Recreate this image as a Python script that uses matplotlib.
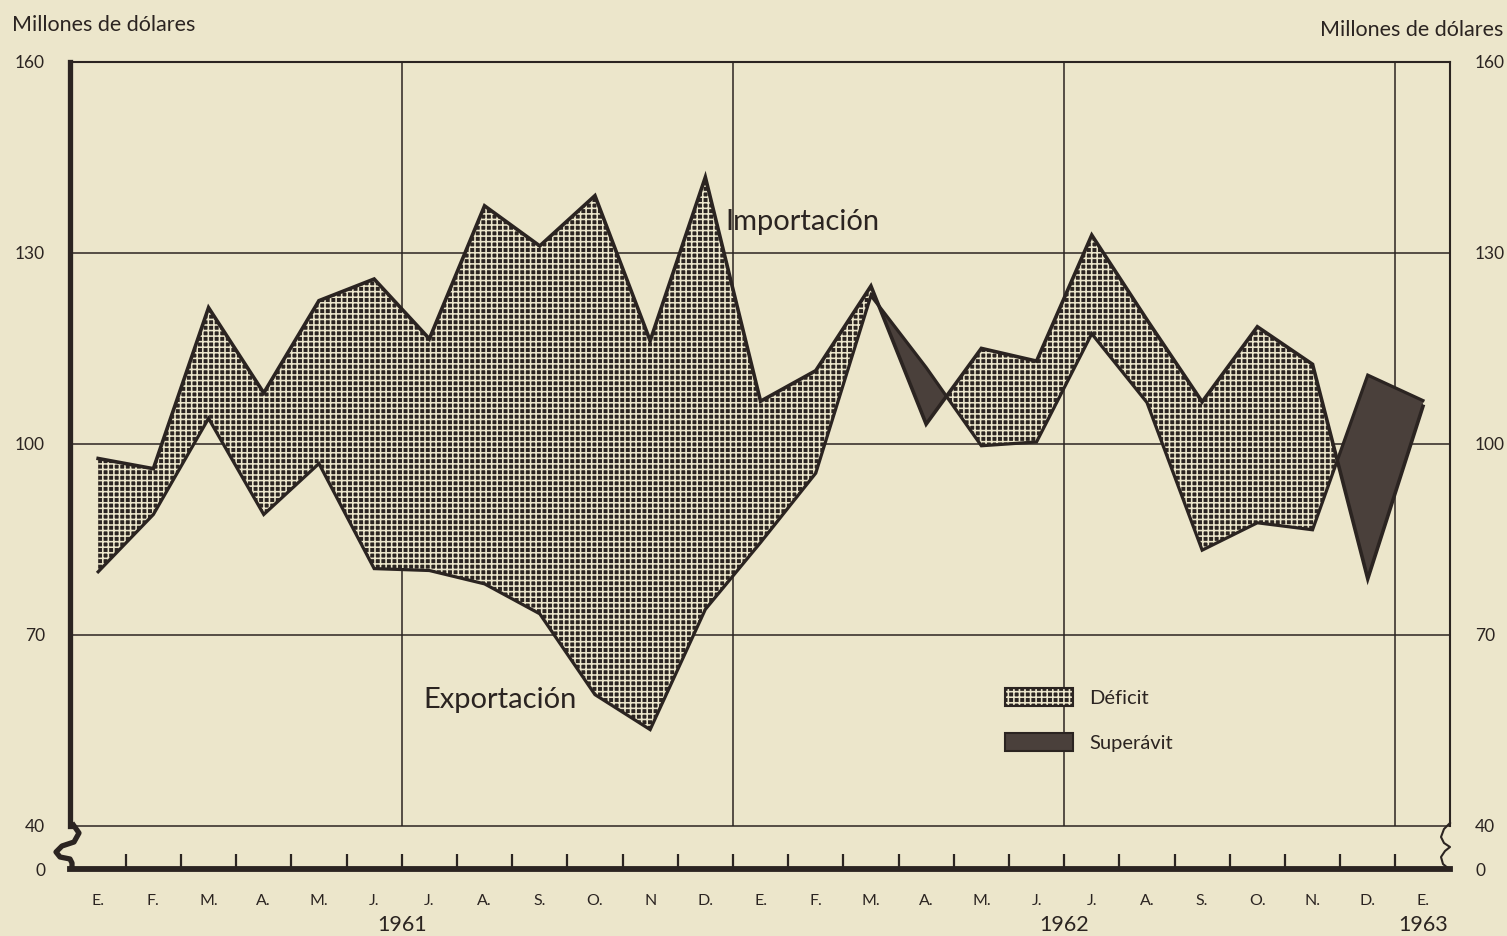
import matplotlib.pyplot as plt
import numpy as np
from matplotlib.patches import Patch
from matplotlib.lines import Line2D

plt.rcParams['font.family'] = ['Lato', 'DejaVu Sans']
plt.rcParams['hatch.linewidth'] = 1.15

# monthly values, Jan 1961 .. Jan 1963 (millones de dolares)
meses = ["E.", "F.", "M.", "A.", "M.", "J.", "J.", "A.", "S.", "O.", "N", "D.",
         "E.", "F.", "M.", "A.", "M.", "J.", "J.", "A.", "S.", "O.", "N.", "D.", "E."]
importacion = [97.7, 96.1, 121.4, 108.0, 122.5, 125.9, 116.5, 137.4, 131.1, 139.0, 116.2, 141.9,
               106.7, 111.5, 124.8, 103.1, 115.0, 113.0, 132.8, 119.5, 106.6, 118.4, 112.5, 78.8, 105.9]
exportacion = [79.9, 88.9, 104.0, 88.9, 96.9, 80.4, 80.1, 78.0, 73.3, 60.6, 55.1, 74.0,
               84.5, 95.4, 123.3, 112.0, 99.7, 100.3, 117.3, 106.5, 83.3, 87.6, 86.5, 110.8, 106.8]
anios = ["1961", "1962", "1963"]
anio_pos = [5.5, 17.5, 24]
y_ticks = [33.2, 40, 70, 100, 130, 160]
y_labels = ["0", "40", "70", "100", "130", "160"]

bg = '#ECE6CB'
ink = '#2b2421'
dark = '#4a403b'

fig = plt.figure(figsize=(15.07, 9.36), dpi=100, facecolor=bg)
ax = fig.add_axes([70/1507, 1-869/936, 1380/1507, 807/936])
ax.set_facecolor(bg)

x = np.arange(len(meses))
imp = np.array(importacion)
exp_ = np.array(exportacion)

ax.set_xlim(-0.51, 24.49)
ax.set_ylim(33.2, 160)

# grid
for v in [40, 70, 100, 130]:
    ax.axhline(v, color=ink, lw=1.1, zorder=1)
ax.vlines([5.5, 11.5, 17.5, 23.5], 40, 160, color=ink, lw=1.1, zorder=1)

# fills
ax.fill_between(x, exp_, imp, where=imp >= exp_, interpolate=True,
                facecolor=ink, edgecolor=bg, hatch='+++', lw=0, zorder=2)
ax.fill_between(x, exp_, imp, where=imp < exp_, interpolate=True,
                facecolor=dark, lw=0, zorder=2)
ax.plot(x, imp, color=ink, lw=2.6, zorder=3, solid_joinstyle='miter')
ax.plot(x, exp_, color=ink, lw=2.3, zorder=3, solid_joinstyle='miter')

ax.text(11.36, 134.8, "Importación", fontsize=21, color=ink, va='center', ha='left')
ax.text(5.9, 59.7, "Exportación", fontsize=21, color=ink, va='center', ha='left')

# spines
ax.spines['left'].set_bounds(40, 160)
ax.spines['left'].set_linewidth(3.8)
ax.spines['right'].set_bounds(40, 160)
ax.spines['right'].set_linewidth(1.5)
ax.spines['top'].set_linewidth(1.5)
ax.spines['bottom'].set_linewidth(4.2)
for s in ax.spines.values():
    s.set_color(ink)

# broken-axis curls
lx = np.array([72, 79, 74, 62, 56, 60, 70, 72, 72])
ly = np.array([823, 833, 842, 846, 852, 857, 859, 863, 869])
fig.add_artist(Line2D(lx/1507, 1-ly/936, color=ink, lw=3.8, solid_capstyle='butt'))
rx = np.array([1450, 1444, 1441, 1444, 1450, 1445, 1441, 1443, 1449])
ry = np.array([823, 829, 837, 843, 847, 851, 857, 864, 869])
fig.add_artist(Line2D(rx/1507, 1-ry/936, color=ink, lw=1.5))

# axis ticks
ax.set_xticks(x)
ax.set_xticklabels(meses, fontsize=11.5, color=ink)
ax.set_xticks(np.arange(0.5, 24, 1), minor=True)
ax.tick_params(axis='x', which='major', length=0, pad=18)
ax.tick_params(axis='x', which='minor', direction='in', length=11, width=1.6, color=ink)
ax.set_yticks(y_ticks)
ax.set_yticklabels(y_labels, fontsize=12.5, color=ink)
ax.tick_params(axis='y', length=0, pad=18, labelright=True)

for a, p in zip(anios, anio_pos):
    ax.text(p, -0.069, a, transform=ax.get_xaxis_transform(),
            fontsize=15.5, color=ink, ha='center', va='center')

fig.text(12/1507, 1-25/936, "Millones de dólares", fontsize=15.5, color=ink, va='center', ha='left')
fig.text(1503/1507, 1-30/936, "Millones de dólares", fontsize=15.5, color=ink, va='center', ha='right')

h_def = (Patch(facecolor=ink, edgecolor=bg, hatch='+++', lw=0),
         Patch(facecolor='none', edgecolor=ink, lw=1.5))
h_sup = Patch(facecolor=dark, edgecolor=ink, lw=1.5)
ax.legend([h_def, h_sup], ["Déficit", "Superávit"], loc='upper left',
          bbox_to_anchor=(0.6775, 0.224), frameon=False, fontsize=14.5,
          handlelength=3.4, handleheight=1.0, handletextpad=0.8,
          labelspacing=1.3, borderpad=0, borderaxespad=0, labelcolor=ink)

fig.savefig("out.png", dpi=100, facecolor=bg)
